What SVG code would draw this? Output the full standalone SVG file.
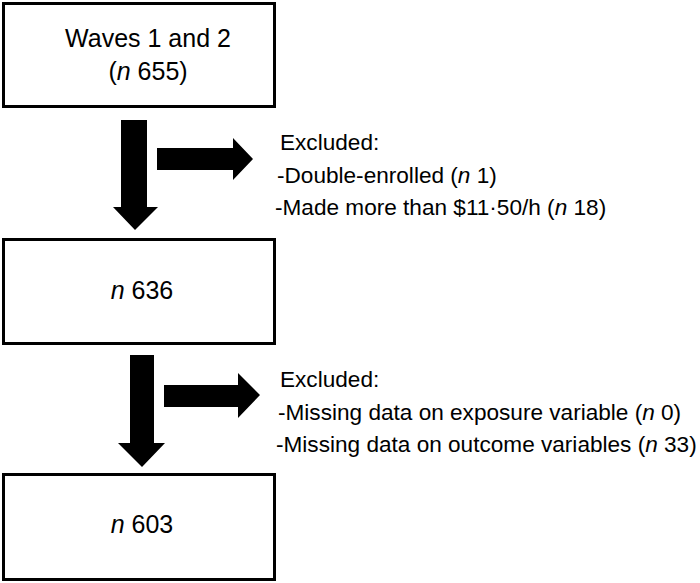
<svg xmlns="http://www.w3.org/2000/svg" width="700" height="583" viewBox="0 0 700 583">
<style>
.box{fill:#fff;stroke:#000;stroke-width:3}
.bt{font-family:"Liberation Sans",Arial,sans-serif;font-size:25px;fill:#000;text-anchor:middle}
.et{font-family:"Liberation Sans",Arial,sans-serif;font-size:22.6px;fill:#000}
.arr{fill:#000}
.i{font-style:italic}
</style>
<rect width="700" height="583" fill="#fff"/>
<g id="node-waves">
<rect class="box" x="3.5" y="3.5" width="271" height="103"/>
<text class="bt" x="148" y="47">Waves 1 and 2</text>
<text class="bt" x="148" y="80">(<tspan class="i">n</tspan> 655)</text>
</g>
<g id="node-636">
<rect class="box" x="3.5" y="239.5" width="271" height="104"/>
<text class="bt" x="142" y="299"><tspan class="i">n</tspan> 636</text>
</g>
<g id="node-603">
<rect class="box" x="3.5" y="474.5" width="271" height="105"/>
<text class="bt" x="142" y="533"><tspan class="i">n</tspan> 603</text>
</g>
<g id="excluded-1">
<text class="et" x="280" y="150">Excluded:</text>
<text class="et" x="277" y="183">-Double-enrolled (<tspan class="i">n</tspan> 1)</text>
<text class="et" x="275" y="215">-Made more than $11·50/h (<tspan class="i">n</tspan> 18)</text>
</g>
<g id="excluded-2">
<text class="et" x="280" y="387">Excluded:</text>
<text class="et" x="278" y="420">-Missing data on exposure variable (<tspan class="i">n</tspan> 0)</text>
<text class="et" x="276" y="452">-Missing data on outcome variables (<tspan class="i">n</tspan> 33)</text>
</g>
<g id="connectors">
<polygon class="arr" points="121,120 147,120 147,207 158,207 135,230 113,207 121,207"/>
<polygon class="arr" points="157,148 233,148 233,138 253,159 233,180 233,170 157,170"/>
<polygon class="arr" points="130,355 154,355 154,443 165,443 142,467 118,443 130,443"/>
<polygon class="arr" points="164,385 238,385 238,373 260,395 238,418 238,407 164,407"/>
</g>
</svg>
